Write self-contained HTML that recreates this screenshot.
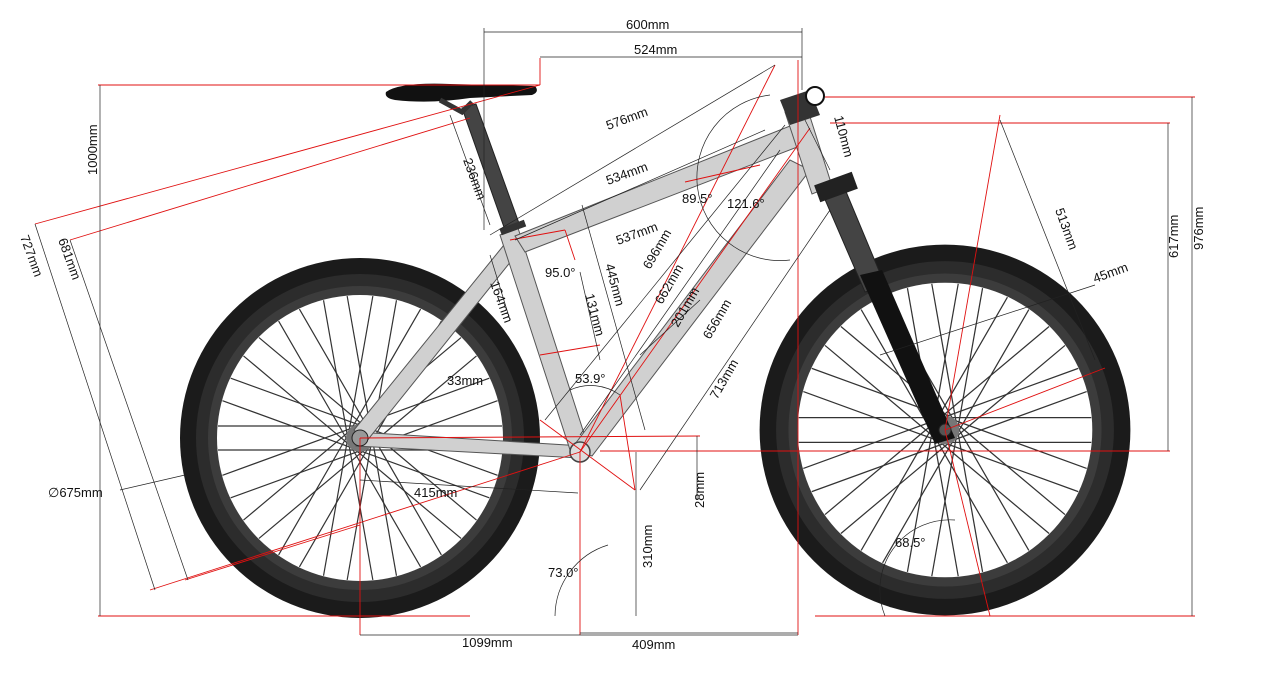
<!DOCTYPE html>
<html><head><meta charset="utf-8"><style>
html,body{margin:0;padding:0;background:#fff;}
svg{display:block;font-family:"Liberation Sans",sans-serif;}
text{font-size:13px;fill:#111;}
</style></head><body>
<svg width="1280" height="689" viewBox="0 0 1280 689" xmlns="http://www.w3.org/2000/svg">
<defs>
<g id="sp">
<line x1="0" y1="12" x2="142" y2="12" stroke="#333" stroke-width="1.2"/>
<line x1="0" y1="-12" x2="142" y2="-12" stroke="#333" stroke-width="1.2"/>
</g>
<g id="spokes">
<use href="#sp" transform="rotate(0)"/><use href="#sp" transform="rotate(20)"/><use href="#sp" transform="rotate(40)"/>
<use href="#sp" transform="rotate(60)"/><use href="#sp" transform="rotate(80)"/><use href="#sp" transform="rotate(100)"/>
<use href="#sp" transform="rotate(120)"/><use href="#sp" transform="rotate(140)"/><use href="#sp" transform="rotate(160)"/>
<use href="#sp" transform="rotate(180)"/><use href="#sp" transform="rotate(200)"/><use href="#sp" transform="rotate(220)"/>
<use href="#sp" transform="rotate(240)"/><use href="#sp" transform="rotate(260)"/><use href="#sp" transform="rotate(280)"/>
<use href="#sp" transform="rotate(300)"/><use href="#sp" transform="rotate(320)"/><use href="#sp" transform="rotate(340)"/>
</g>
<g id="wheel">
<circle r="180" fill="#1b1b1b"/>
<circle r="164" fill="#2c2c2c"/>
<circle r="152" fill="#3c3c3c"/>
<circle r="143" fill="#fff"/>
<use href="#spokes"/>
<circle r="14" fill="#777"/>
</g>
</defs>

<g transform="translate(360,438)"><use href="#wheel"/></g>
<g transform="translate(945,430) scale(1.03)"><use href="#wheel"/></g>

<g stroke="#555" stroke-width="1" fill="#d0d0d0">
<polygon points="356,432 583,446 580,458 356,446"/>
<polygon points="354,430 508,240 520,250 366,442"/>
<polygon points="500,235 518,228 590,452 572,456"/>
<polygon points="515,236 790,126 800,146 525,252"/>
<polygon points="572,448 790,160 810,170 592,456"/>
<polygon points="785,112 806,104 832,186 812,194"/>
</g>
<circle cx="580" cy="452" r="10" fill="#ddd" stroke="#444" stroke-width="1.5"/>
<polygon points="462,108 476,104 520,226 505,230" fill="#444" stroke="#222"/>
<rect x="500" y="224" width="26" height="7" fill="#333" transform="rotate(-20 513 228)"/>
<path d="M386,92 Q400,82 450,84 L535,86 Q540,92 532,95 L470,98 Q430,104 395,100 Q384,98 386,92Z" fill="#111"/>
<path d="M440,100 L462,112 L472,102" stroke="#333" stroke-width="5" fill="none"/>
<polygon points="820,188 842,182 885,285 865,292" fill="#444" stroke="#222"/>
<polygon points="860,275 882,270 955,438 935,444" fill="#111"/>
<rect x="816" y="178" width="40" height="18" fill="#222" transform="rotate(-20 836 187)"/>
<polygon points="780,100 810,90 820,115 790,125" fill="#333"/>
<circle cx="815" cy="96" r="9" fill="#fff" stroke="#111" stroke-width="2"/>
<circle cx="360" cy="438" r="8" fill="#999" stroke="#222"/>
<circle cx="945" cy="430" r="6" fill="#555" stroke="#222"/>

<g stroke="#e01010" stroke-width="0.9" fill="none">
<line x1="98" y1="85" x2="540" y2="85"/>
<line x1="540" y1="85" x2="540" y2="58"/>
<line x1="98" y1="616" x2="470" y2="616"/>
<line x1="815" y1="616" x2="1195" y2="616"/>
<line x1="825" y1="97" x2="1195" y2="97"/>
<line x1="830" y1="123" x2="1170" y2="123"/>
<line x1="600" y1="451" x2="1170" y2="451"/>
<line x1="580" y1="451" x2="580" y2="635"/>
<line x1="798" y1="60" x2="798" y2="635"/>
<line x1="360" y1="438" x2="360" y2="635"/>
<line x1="360" y1="438" x2="700" y2="436"/>
<line x1="35" y1="224" x2="540" y2="85"/>
<line x1="70" y1="240" x2="470" y2="118"/>
<line x1="150" y1="590" x2="580" y2="452"/>
<line x1="185" y1="580" x2="360" y2="525"/>
<line x1="580" y1="452" x2="775" y2="65"/>
<line x1="580" y1="452" x2="810" y2="128"/>
<line x1="945" y1="430" x2="1105" y2="368"/>
<line x1="945" y1="430" x2="990" y2="616"/>
<line x1="945" y1="430" x2="1000" y2="115"/>
<line x1="510" y1="240" x2="565" y2="230"/>
<line x1="565" y1="230" x2="575" y2="260"/>
<line x1="540" y1="355" x2="600" y2="345"/>
<line x1="620" y1="395" x2="635" y2="490"/>
<line x1="540" y1="420" x2="635" y2="490"/>
<line x1="685" y1="182" x2="760" y2="165"/>
</g>
<g stroke="#222" stroke-width="0.7" fill="none">
<line x1="484" y1="32" x2="802" y2="32"/>
<line x1="484" y1="28" x2="484" y2="230"/>
<line x1="802" y1="28" x2="802" y2="90"/>
<line x1="540" y1="57" x2="802" y2="57"/>
<line x1="100" y1="85" x2="100" y2="616"/>
<line x1="1192" y1="97" x2="1192" y2="616"/>
<line x1="1168" y1="123" x2="1168" y2="451"/>
<line x1="490" y1="235" x2="775" y2="65"/>
<line x1="515" y1="240" x2="765" y2="130"/>
<line x1="450" y1="115" x2="490" y2="225"/>
<line x1="35" y1="224" x2="155" y2="590"/>
<line x1="70" y1="240" x2="188" y2="580"/>
<line x1="360" y1="635" x2="798" y2="635"/>
<line x1="580" y1="633" x2="798" y2="633"/>
<line x1="360" y1="480" x2="578" y2="493"/>
<line x1="636" y1="452" x2="636" y2="616"/>
<line x1="697" y1="436" x2="697" y2="500"/>
<line x1="640" y1="490" x2="830" y2="210"/>
<line x1="545" y1="420" x2="785" y2="125"/>
<line x1="580" y1="435" x2="780" y2="150"/>
<line x1="1000" y1="120" x2="1095" y2="360"/>
<line x1="880" y1="355" x2="1095" y2="285"/>
<line x1="120" y1="490" x2="185" y2="475"/>
<line x1="490" y1="255" x2="510" y2="320"/>
<line x1="580" y1="272" x2="600" y2="360"/>
<line x1="582" y1="205" x2="645" y2="430"/>
<line x1="640" y1="355" x2="700" y2="300"/>
<line x1="805" y1="120" x2="830" y2="170"/>
<path d="M555,616 A75,75 0 0 1 608,545"/>
<path d="M885,616 A70,70 0 0 1 955,520"/>
<path d="M790,260 A80,80 0 1 1 770,95"/>
<path d="M570,390 A50,50 0 0 1 620,395"/>
</g>

<text x="626" y="29">600mm</text>
<text x="634" y="54">524mm</text>
<text x="0" y="0" transform="translate(608,130) rotate(-20)">576mm</text>
<text x="0" y="0" transform="translate(608,185) rotate(-20)">534mm</text>
<text x="0" y="0" transform="translate(97,175) rotate(-90)">1000mm</text>
<text x="0" y="0" transform="translate(463,160) rotate(70)">236mm</text>
<text x="0" y="0" transform="translate(20,237) rotate(70)">727mm</text>
<text x="0" y="0" transform="translate(58,240) rotate(70)">681mm</text>
<text x="682" y="203">89.5°</text>
<text x="727" y="208">121.6°</text>
<text x="0" y="0" transform="translate(834,117) rotate(75)">110mm</text>
<text x="0" y="0" transform="translate(1178,258) rotate(-90)">617mm</text>
<text x="0" y="0" transform="translate(1203,250) rotate(-90)">976mm</text>
<text x="0" y="0" transform="translate(1055,210) rotate(70)">513mm</text>
<text x="0" y="0" transform="translate(1095,283) rotate(-20)">45mm</text>
<text x="0" y="0" transform="translate(618,245) rotate(-20)">537mm</text>
<text x="0" y="0" transform="translate(650,270) rotate(-60)">696mm</text>
<text x="0" y="0" transform="translate(662,305) rotate(-60)">662mm</text>
<text x="0" y="0" transform="translate(678,328) rotate(-60)">201mm</text>
<text x="0" y="0" transform="translate(710,340) rotate(-60)">656mm</text>
<text x="0" y="0" transform="translate(717,400) rotate(-60)">713mm</text>
<text x="545" y="277">95.0°</text>
<text x="0" y="0" transform="translate(605,265) rotate(75)">445mm</text>
<text x="0" y="0" transform="translate(585,295) rotate(75)">131mm</text>
<text x="0" y="0" transform="translate(490,283) rotate(70)">164mm</text>
<text x="447" y="385">33mm</text>
<text x="575" y="383">53.9°</text>
<text x="414" y="497">415mm</text>
<text x="48" y="497">∅675mm</text>
<text x="0" y="0" transform="translate(704,508) rotate(-90)">28mm</text>
<text x="0" y="0" transform="translate(652,568) rotate(-90)">310mm</text>
<text x="548" y="577">73.0°</text>
<text x="895" y="547">68.5°</text>
<text x="462" y="647">1099mm</text>
<text x="632" y="649">409mm</text>
</svg>
</body></html>
